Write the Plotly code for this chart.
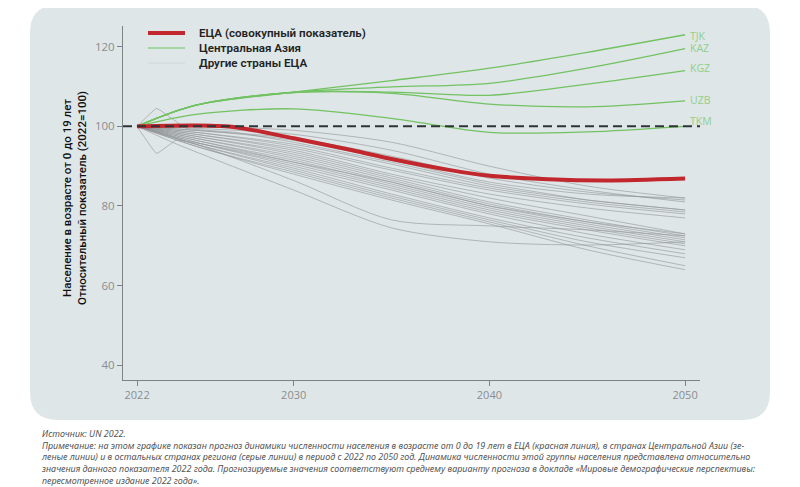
import plotly.graph_objects as go

# ---------------- data ----------------
YEARS = [2022, 2025, 2030, 2035, 2040, 2045, 2050]

# ECA aggregate (red)
RED_YEARS = [2022, 2025, 2027, 2030, 2033, 2035, 2038, 2040, 2043, 2046, 2050]
RED_VALUES = [100, 100.2, 99.8, 97.0, 94.0, 91.8, 89.0, 87.6, 86.7, 86.4, 86.9]

# Central Asia (green)
GREEN_NAMES = ["TJK", "KAZ", "KGZ", "UZB", "TKM"]
GREEN_VALUES = [
    [100, 105.3, 108.6, 111.5, 114.6, 118.6, 123.0],
    [100, 105.3, 108.6, 109.9, 110.8, 114.6, 119.5],
    [100, 105.3, 108.5, 108.6, 107.8, 110.6, 114.0],
    [100, 105.3, 108.5, 108.3, 105.6, 104.9, 106.4],
    [100, 103.0, 104.4, 102.0, 98.5, 98.6, 100.0],
]
GREEN_LABEL_Y = [122.7, 119.7, 114.6, 106.6, 101.4]

# Other ECA countries (grey)
GREY_VALUES = [
    [100, 100.0, 99.0, 96.0, 90.0, 85.0, 82.0],
    [100, 99.5, 98.0, 94.0, 88.0, 84.0, 81.0],
    [100, 99.0, 97.0, 92.5, 87.0, 83.5, 81.5],
    [100, 99.0, 96.5, 91.5, 86.0, 83.0, 82.0],
    [100, 98.5, 95.5, 90.5, 85.0, 81.5, 79.0],
    [100, 98.5, 95.0, 89.5, 84.5, 81.0, 78.5],
    [100, 98.0, 94.5, 89.0, 84.0, 80.5, 78.0],
    [100, 98.0, 94.0, 88.0, 83.0, 79.5, 77.0],
    [100, 97.5, 93.5, 87.5, 82.0, 77.5, 73.0],
    [100, 97.5, 93.0, 87.0, 81.0, 76.5, 72.5],
    [100, 97.0, 92.5, 86.5, 80.5, 76.0, 72.0],
    [100, 97.0, 92.0, 86.0, 80.0, 75.5, 71.5],
    [100, 96.5, 91.5, 85.5, 79.5, 75.0, 71.0],
    [100, 96.5, 91.0, 85.0, 79.0, 74.5, 70.5],
    [100, 96.0, 90.5, 84.5, 78.5, 74.0, 70.0],
    [100, 96.0, 90.0, 84.0, 78.0, 73.0, 69.0],
    [100, 95.5, 89.5, 83.0, 77.0, 72.0, 68.0],
    [100, 95.5, 89.0, 82.5, 76.5, 71.0, 67.0],
    [100, 95.0, 88.5, 82.0, 76.0, 70.0, 65.0],
    [100, 95.0, 88.0, 81.5, 75.5, 69.0, 64.0],
    [100, 95.5, 86.4, 76.5, 75.0, 74.0, 72.5],
]
STEEP_YEARS = [2022, 2024, 2030, 2035, 2040, 2045, 2050]
STEEP_VALUES = [100, 95.6, 84.0, 74.5, 71.0, 70.2, 71.0]
JAG_YEARS = [2022, 2023, 2024.5, 2027, 2030, 2035, 2040, 2045, 2050]
JAG1_VALUES = [100, 104.5, 99.5, 98.5, 96.0, 91.0, 85.5, 81.5, 79.0]
JAG2_YEARS = [2022, 2023, 2024, 2027, 2030, 2035, 2040, 2045, 2050]
JAG2_VALUES = [100, 93.2, 96.5, 94.0, 91.0, 86.0, 80.0, 76.0, 73.0]

X_TICKS = [2022, 2030, 2040, 2050]
Y_TICKS = [40, 60, 80, 100, 120]

LEGEND_RED = "ЕЦА (совокупный показатель)"
LEGEND_GREEN = "Центральная Азия"
LEGEND_GREY = "Другие страны ЕЦА"
Y_TITLE = "Население в возрасте от 0 до 19 лет<br>Относительный показатель (2022=100)"
FOOTNOTE = (
    "Источник: UN 2022.<br>"
    "Примечание: на этом графике показан прогноз динамики численности населения в возрасте от 0 до 19 лет в ЕЦА (красная линия), в странах Центральной Азии (зе-<br>"
    "леные линии) и в остальных странах региона (серые линии) в период с 2022 по 2050 год. Динамика численности этой группы населения представлена относительно<br>"
    "значения данного показателя 2022 года. Прогнозируемые значения соответствуют среднему варианту прогноза в докладе «Мировые демографические перспективы:<br>"
    "пересмотренное издание 2022 года»."
)

# ---------------- geometry ----------------
OFF = 8  # page body margin offset
W, H = 792, 479
# screen-space plot box: x 123..700, y 26..380
SL, SR, ST, SB = 123, 700, 26, 380
ML, MT = SL - OFF, ST - OFF
MR = W - (SR - OFF)
MB = H - (SB - OFF)
PW, PH = SR - SL, SB - ST


def px_x(px):
    return (px - SL) / PW


def px_y(py):
    return (SB - py) / PH


GREY = "rgba(145,148,152,0.6)"
GREEN = "#72c262"
GREEN_LIGHT = "#8fd088"
RED = "#c1272d"

fig = go.Figure()

# grey lines
grey_series = [(YEARS, v, 0.8) for v in GREY_VALUES] + [
    (STEEP_YEARS, STEEP_VALUES, 0.8),
    (JAG_YEARS, JAG1_VALUES, 0.25),
    (JAG2_YEARS, JAG2_VALUES, 0.25),
]
for i, (xs, ys, sm) in enumerate(grey_series):
    fig.add_trace(go.Scatter(
        x=xs, y=ys, mode="lines",
        line=dict(color=GREY, width=1, shape="spline", smoothing=sm),
        name=LEGEND_GREY, showlegend=False, hoverinfo="skip",
    ))

# green lines
for i, (nm, ys) in enumerate(zip(GREEN_NAMES, GREEN_VALUES)):
    fig.add_trace(go.Scatter(
        x=YEARS, y=ys, mode="lines",
        line=dict(color=GREEN, width=1.3, shape="spline", smoothing=0.9),
        name=nm, showlegend=False, hoverinfo="skip",
    ))

# red line
fig.add_trace(go.Scatter(
    x=RED_YEARS, y=RED_VALUES, mode="lines",
    line=dict(color=RED, width=4, shape="spline", smoothing=0.8),
    name=LEGEND_RED, showlegend=False, hoverinfo="skip",
))

# dashed 100 line
fig.add_shape(type="line", xref="paper", x0=0, x1=1, yref="y", y0=100, y1=100,
              line=dict(color="#2f3336", width=2, dash="9px,5px"), layer="above")

# panel background (rounded rectangle)
L, R, T, B, r = 30, 770, 5, 420, 28
pts = [
    ("M", (L + r, T)), ("L", (R - r, T)), ("Q", (R, T), (R, T + r)),
    ("L", (R, B - r)), ("Q", (R, B), (R - r, B)), ("L", (L + r, B)),
    ("Q", (L, B), (L, B - r)), ("L", (L, T + r)), ("Q", (L, T), (L + r, T)),
]
path = ""
for p in pts:
    cmd = p[0]
    coords = " ".join(f"{px_x(x):.5f},{px_y(y):.5f}" for x, y in p[1:])
    path += f"{cmd} {coords} "
path += "Z"
fig.add_shape(type="path", xref="paper", yref="paper", path=path,
              fillcolor="#dfe6e8", line=dict(width=0), layer="below")

# legend (keys + labels)
legend_items = [
    (LEGEND_RED, RED, 4, 33),
    (LEGEND_GREEN, GREEN_LIGHT, 1.3, 48),
    (LEGEND_GREY, "rgba(200,203,206,0.6)", 1, 63),
]
for text, col, w, yy in legend_items:
    fig.add_shape(type="line", xref="paper", yref="paper",
                  x0=px_x(148), x1=px_x(185), y0=px_y(yy), y1=px_y(yy),
                  line=dict(color=col, width=w), layer="above")
    fig.add_annotation(x=px_x(197), y=px_y(yy), xref="paper", yref="paper",
                       text=text, showarrow=False, xanchor="left", yanchor="middle",
                       font=dict(family="Roboto", size=11.6, color="#222", weight=600))

# right labels
for nm, ly in zip(GREEN_NAMES, GREEN_LABEL_Y):
    fig.add_annotation(x=2050, y=ly, xref="x", yref="y", text=nm,
                       showarrow=False, xanchor="left", xshift=3,
                       font=dict(family="Open Sans", size=10.5, color=GREEN_LIGHT))

# y title
fig.add_annotation(x=px_x(74), y=px_y(198), xref="paper", yref="paper",
                   xanchor="center", yanchor="middle",
                   text=Y_TITLE, textangle=-90, showarrow=False,
                   font=dict(family="Roboto", size=11.5, color="#111", weight=500),
                   align="center")

# footnote
fig.add_annotation(x=px_x(39), y=px_y(425), xref="paper", yref="paper",
                   text=FOOTNOTE, showarrow=False, xanchor="left", yanchor="top",
                   align="left",
                   font=dict(family="Noto Sans", size=8.95, color="#555", style="italic"))

fig.update_layout(
    width=W, height=H, autosize=False,
    margin=dict(l=ML, r=MR, t=MT, b=MB, pad=0),
    paper_bgcolor="white", plot_bgcolor="rgba(0,0,0,0)",
    showlegend=False,
    xaxis=dict(range=[2021.28, 2050.76], tickvals=X_TICKS, showgrid=False,
               zeroline=False, showline=True, linecolor="#7d8285", linewidth=1,
               ticks="outside", ticklen=5, tickcolor="#7d8285",
               tickfont=dict(family="Open Sans", size=11, color="#8a8d90")),
    yaxis=dict(range=[36.3, 125.2], tickvals=Y_TICKS, showgrid=False,
               zeroline=False, showline=True, linecolor="#7d8285", linewidth=1,
               ticks="outside", ticklen=5, tickcolor="#7d8285",
               tickfont=dict(family="Open Sans", size=11.5, color="#8a8d90")),
)

fig.write_html("out.html")
